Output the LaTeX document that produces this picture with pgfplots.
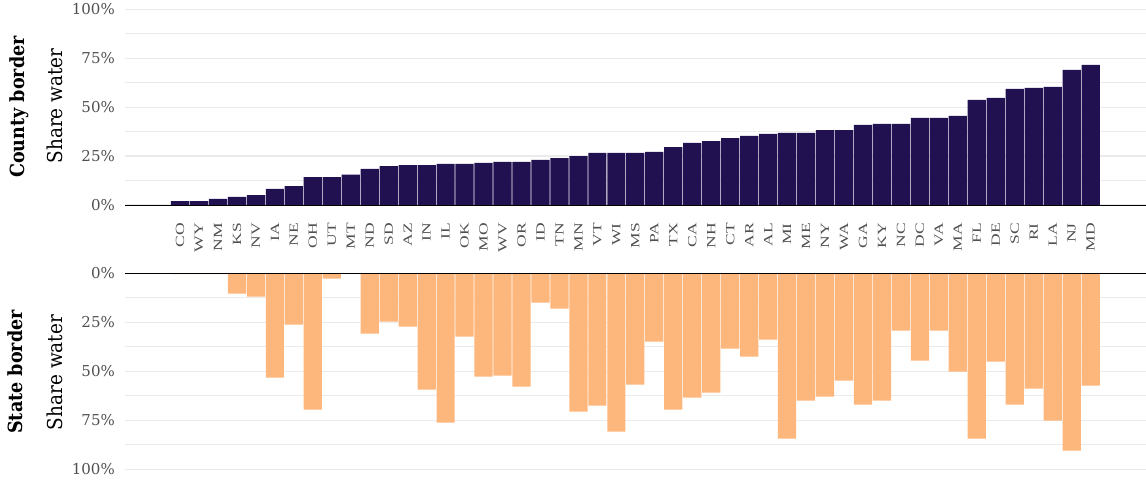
\documentclass[border=0pt]{standalone}
\usepackage{pgfplots}
\pgfplotsset{compat=1.18}
\usepackage{pgfplotstable}
\usepackage{fontspec}
\usepackage{graphicx}
\setmainfont{DejaVu Serif}
\newfontfamily\condfont{DejaVu Serif Condensed}
\newfontfamily\xlfont{Liberation Serif}
\definecolor{navy}{HTML}{221150}
\definecolor{peach}{HTML}{FDB77C}
\definecolor{gridc}{HTML}{EBEBEB}
\definecolor{labc}{HTML}{505050}
\newcommand\sx[1]{\scalebox{1.4}[1]{#1}}

\pgfplotstableread{
x county state
0 2.0 0.4
1 2.0 0.4
2 3.1 0.4
3 4.1 10.4
4 5.1 11.9
5 8.2 53.2
6 9.7 26.2
7 14.3 69.6
8 14.3 2.7
9 15.5 0
10 18.4 30.8
11 19.9 24.7
12 20.4 27.2
13 20.4 59.4
14 21.0 76.2
15 21.0 32.3
16 21.5 52.7
17 22.0 52.2
18 22.0 57.8
19 23.0 15.0
20 24.0 18.0
21 25.0 70.6
22 26.6 67.5
23 26.6 80.8
24 26.6 56.8
25 27.1 34.9
26 29.6 69.6
27 31.7 63.4
28 32.7 60.9
29 34.2 38.4
30 35.3 42.5
31 36.3 33.8
32 36.8 84.4
33 36.8 65.0
34 38.3 62.9
35 38.3 54.8
36 40.9 67.0
37 41.4 65.0
38 41.4 29.3
39 44.5 44.6
40 44.5 29.3
41 45.5 50.2
42 53.7 84.4
43 54.7 45.1
44 59.3 67.0
45 59.8 58.8
46 60.3 75.2
47 69.0 90.5
48 71.6 57.3
}\datatable

\pgfplotsset{
  common/.style={
    width=1021pt, scale only axis,
    xmin=-2.9, xmax=50.92, ymin=0, ymax=100,
    ytick={0,25,50,75,100},
    yticklabels={0\%,25\%,50\%,75\%,100\%},
    minor ytick={12.5,37.5,62.5,87.5},
    ymajorgrids, yminorgrids,
    major grid style={gridc, line width=1.2pt},
    minor grid style={gridc, line width=0.7pt},
    axis line style={draw=none},
    major tick length=0pt, minor tick length=0pt,
    yticklabel style={font=\fontsize{15}{17}\selectfont, text=labc, anchor=east, inner sep=0pt, xshift=-10pt},
  }
}

\begin{document}
\begin{tikzpicture}
\path[use as bounding box] (0pt,0pt) rectangle (1146pt,480pt);

\begin{axis}[common,
  at={(125pt,275pt)}, anchor=south west, height=195.7pt,
  xtick={0,...,48},
  xticklabels={\sx{CO},\sx{WY},\sx{NM},\sx{KS},\sx{NV},\sx{IA},\sx{NE},\sx{OH},\sx{UT},\sx{MT},\sx{ND},\sx{SD},\sx{AZ},\sx{IN},\sx{IL},\sx{OK},\sx{MO},\sx{WV},\sx{OR},\sx{ID},\sx{TN},\sx{MN},\sx{VT},\sx{WI},\sx{MS},\sx{PA},\sx{TX},\sx{CA},\sx{NH},\sx{CT},\sx{AR},\sx{AL},\sx{MI},\sx{ME},\sx{NY},\sx{WA},\sx{GA},\sx{KY},\sx{NC},\sx{DC},\sx{VA},\sx{MA},\sx{FL},\sx{DE},\sx{SC},\sx{RI},\sx{LA},\sx{NJ},\sx{MD}},
  xticklabel style={font=\xlfont\fontsize{12.5}{13}\selectfont, text=labc, rotate=90, anchor=east, inner sep=0pt},
  xticklabel shift=18pt,
]
\addplot[ybar, bar width=0.96, fill=navy, draw=none] table[x=x, y=county]{\datatable};
\draw[black, line width=1pt] (axis cs:-2.9,0) -- (axis cs:50.92,0);
\end{axis}

\begin{axis}[common,
  at={(125pt,10.7pt)}, anchor=south west, height=196pt,
  y dir=reverse,
  xtick=\empty,
]
\addplot[ybar, bar width=0.96, fill=peach, draw=none] table[x=x, y=state]{\datatable};
\draw[black, line width=1pt] (axis cs:-2.9,0) -- (axis cs:50.92,0);
\end{axis}

\node[rotate=90, anchor=base, font=\condfont\bfseries\fontsize{19.5}{21}\selectfont] at (24pt,373pt) {County border};
\node[rotate=90, anchor=base, font=\condfont\fontsize{20.5}{22}\selectfont] at (62pt,374pt) {Share water};
\node[rotate=90, anchor=base, font=\condfont\bfseries\fontsize{19.5}{21}\selectfont] at (22pt,108pt) {State border};
\node[rotate=90, anchor=base, font=\condfont\fontsize{20.5}{22}\selectfont] at (62pt,107.5pt) {Share water};
\end{tikzpicture}
\end{document}
